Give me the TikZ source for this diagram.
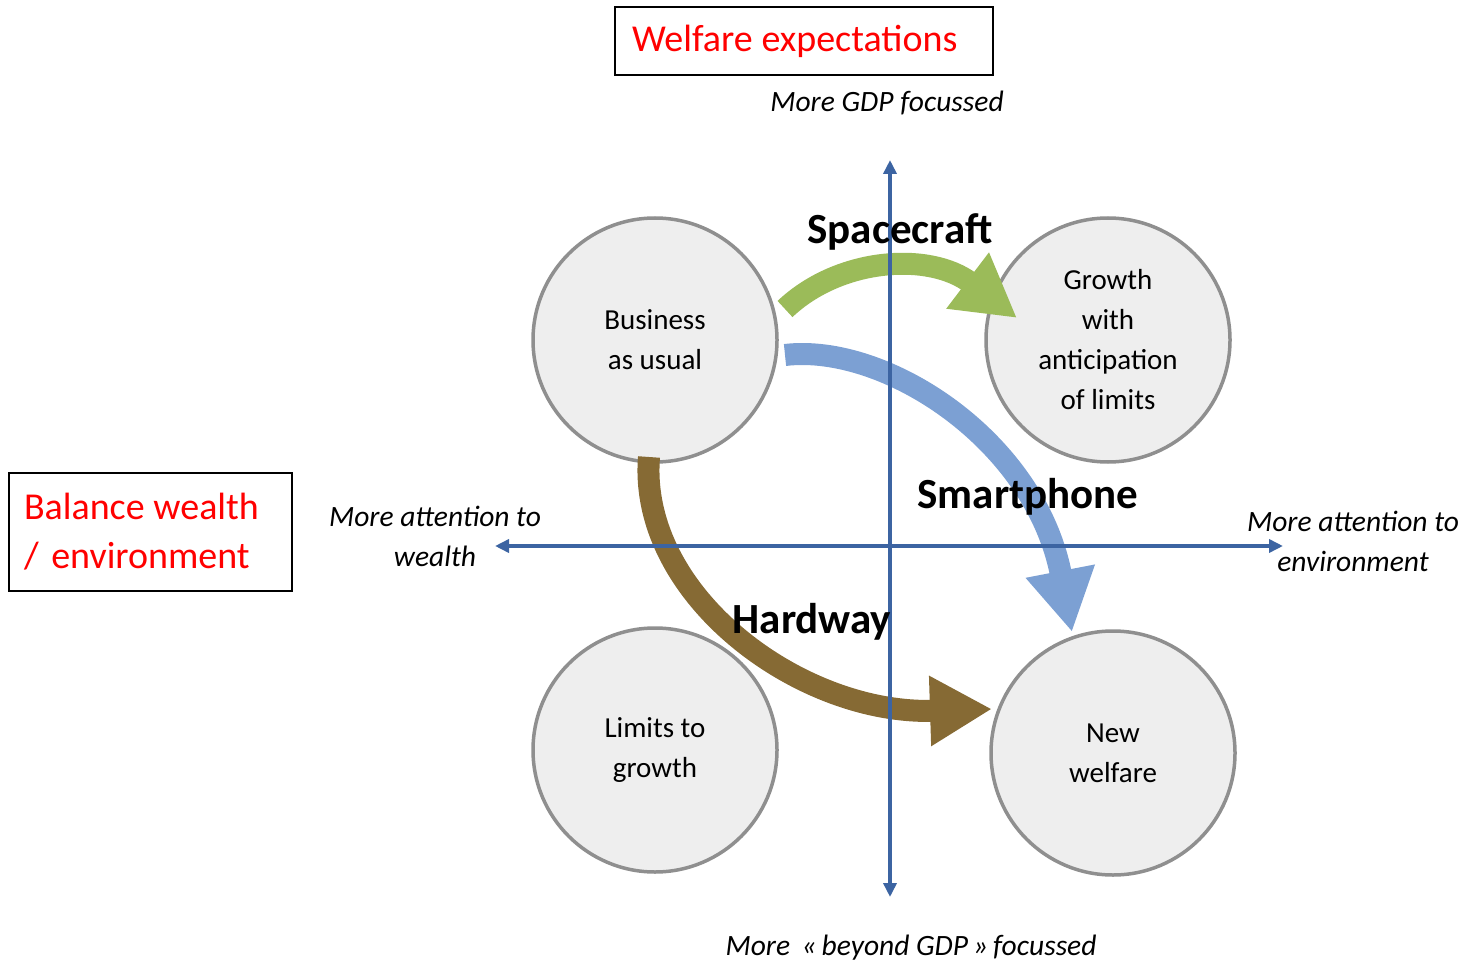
\documentclass[tikz,border=0pt]{standalone}
\usepackage{fontspec}
\setmainfont{Carlito}
\usetikzlibrary{arrows.meta}
\definecolor{axisblue}{RGB}{60,100,162}
\definecolor{circgray}{RGB}{143,143,143}
\definecolor{circfill}{RGB}{238,238,238}
\definecolor{greenband}{RGB}{155,187,89}
\definecolor{blueband}{RGB}{124,160,211}
\definecolor{brownband}{RGB}{134,106,52}
\begin{document}
\begin{tikzpicture}[x=1pt,y=-1pt,
  scen/.style={circle, draw=circgray, fill=circfill, line width=3.5pt, minimum size=244pt, inner sep=0pt, align=center, font=\fontsize{29}{40}\selectfont},
  axisline/.style={draw=axisblue, line width=4pt},
  axtip/.tip={Triangle[length=14pt,width=13pt]},
  fat/.style={line width=22pt},
  fattip/.tip={Triangle[length=62pt,width=66pt]},
  redbox/.style={draw=black, line width=1.5pt, text=red, align=left, font=\fontsize{38}{49}\selectfont},
  axlabel/.style={font=\itshape\fontsize{29.5}{40}\selectfont, align=center},
  pathlabel/.style={font=\bfseries\fontsize{43}{50}\selectfont}
]
\useasboundingbox (0,0) rectangle (1466,965);
% scenario circles
\node[scen] (bau) at (655,340) {Business\\as usual};
\node[scen] (grow) at (1108,340) {Growth\\with\\anticipation\\of limits};
\node[scen] (lim) at (655,750) {Limits to\\growth};
\node[scen] (nw) at (1113,753) {New\\welfare};
% fat arrows
\coordinate (gs) at (785,309);
\coordinate (ge) at (1017,318);
\coordinate (bs) at (785,355);
\coordinate (be) at (1072,632);
\coordinate (hs) at (649,457);
\coordinate (he) at (992,709);
\draw[fat, draw=greenband, -{fattip[fill=greenband]}] (gs) .. controls (840,257) and (930,252) .. (ge);
\draw[fat, draw=blueband, -{fattip[fill=blueband]}] (bs) .. controls (885,343) and (1035,440) .. (be);
\draw[fat, draw=brownband, -{fattip[fill=brownband]}] (hs) .. controls (638,595) and (800,715) .. (he);
% axes
\coordinate (o) at (890,546);
\coordinate (ytop) at (890,160);
\coordinate (ybot) at (890,897);
\coordinate (xl) at (495,546);
\coordinate (xr) at (1283,546);
\draw[axisline, {axtip[fill=axisblue]}-{axtip[fill=axisblue]}] (xl) -- (xr);
\draw[axisline, {axtip[fill=axisblue]}-{axtip[fill=axisblue]}] (ybot) -- (ytop);
% path labels
\node[pathlabel] (sc) at (900,232) {Spacecraft};
\node[pathlabel] (sp) at (1028,497) {Smartphone};
\node[pathlabel] (hw) at (812,622) {Hardway};
% axis labels
\node[axlabel] (gdp) at (887,103) {More GDP focussed};
\node[axlabel] (bgdp) at (911,948) {More \,«\,beyond GDP\,»\,focussed};
\node[axlabel] (wl) at (435,536) {More attention to\\wealth};
\node[axlabel] (env) at (1353,541) {More attention to\\environment};
% red boxes
\node[redbox, text width=344pt, minimum height=68pt, inner xsep=17pt, inner ysep=0pt] (we) at (804,41) {Welfare\hspace{0.23em}expectations};
\node[redbox, text width=253pt, minimum height=118pt, inner xsep=15pt, inner ysep=0pt] (bal) at (150.5,532) {Balance\hspace{0.23em}wealth\\/ environment};
\end{tikzpicture}
\end{document}
